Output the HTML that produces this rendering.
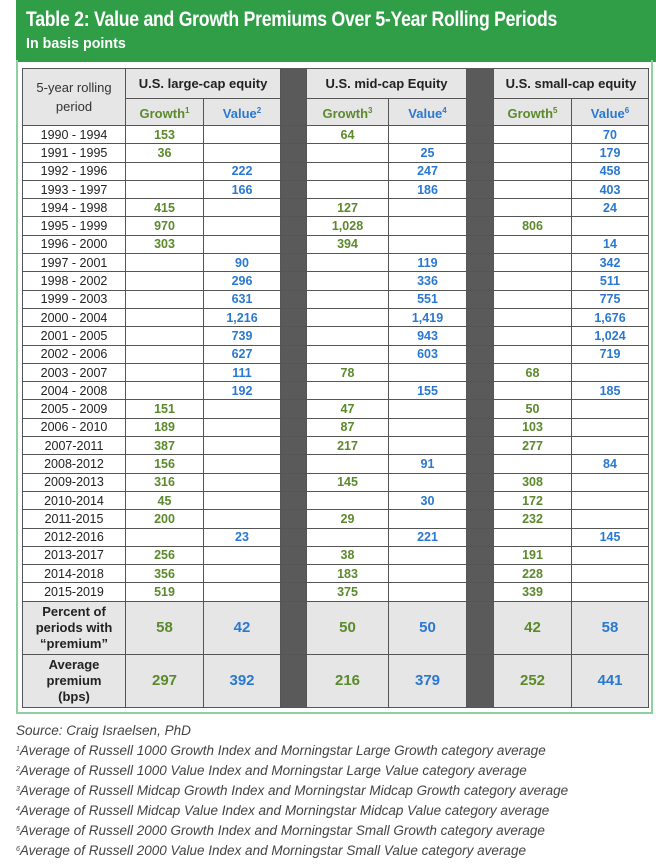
<!DOCTYPE html>
<html><head><meta charset="utf-8"><style>
*{margin:0;padding:0;box-sizing:border-box}
body{width:656px;height:867px;background:#fff;position:relative;font-family:"Liberation Sans",sans-serif;overflow:hidden}
.hdr{position:absolute;left:16px;top:0;width:640px;height:62px;background:#2f9e47}
.t1{position:absolute;left:10px;top:8px;color:#fff;font-weight:bold;font-size:21px;white-space:nowrap;transform:scaleX(0.84);transform-origin:0 0;letter-spacing:-0.3px}
.t2{position:absolute;left:10px;top:35px;color:#fff;font-weight:bold;font-size:15px;white-space:nowrap;transform:scaleX(0.95);transform-origin:0 0}
.frame{position:absolute;left:16px;top:60px;width:637px;height:654px;border:2px solid #8fd0a0;border-top:none}
table{position:absolute;left:22px;top:68px;border-collapse:collapse;table-layout:fixed}
td{border:1px solid #555;text-align:center;font-size:12.5px;color:#222;height:18.3px;padding:0;line-height:14px}
td.g{color:#5b8a2c;font-weight:bold}
td.b{color:#2a78d0;font-weight:bold}
tr.h td{background:#e6e6e6;font-weight:bold;font-size:13px}
tr.big td{background:#e6e6e6;font-size:15px}
tr.big td.l{font-size:13px;font-weight:bold;color:#222;line-height:16px}
td.dk{background:#5a5a5a !important}
sup{font-size:8px;vertical-align:5px}
.fn{position:absolute;left:16px;font-style:italic;font-size:13.5px;color:#444;white-space:nowrap}
.fn sup{font-size:7px;vertical-align:4px}
</style></head><body>
<div class="hdr"><div class="t1">Table 2: Value and Growth Premiums Over 5-Year Rolling Periods</div><div class="t2">In basis points</div></div>
<div class="frame"></div>
<table>
<colgroup><col style="width:103px"><col style="width:78px"><col style="width:77px"><col style="width:26px"><col style="width:82px"><col style="width:78px"><col style="width:27px"><col style="width:78px"><col style="width:77px"></colgroup>
<tr class="h" style="height:30px"><td rowspan="2" style="font-weight:normal;font-size:13px;line-height:19px;color:#333">5-year rolling<br>period</td><td colspan="2">U.S. large-cap equity</td><td rowspan="2" class="dk"></td><td colspan="2">U.S. mid-cap Equity</td><td rowspan="2" class="dk"></td><td colspan="2">U.S. small-cap equity</td></tr>
<tr class="h" style="height:27px"><td class="g">Growth<sup>1</sup></td><td class="b">Value<sup>2</sup></td><td class="g">Growth<sup>3</sup></td><td class="b">Value<sup>4</sup></td><td class="g">Growth<sup>5</sup></td><td class="b">Value<sup>6</sup></td></tr>
<tr><td>1990 - 1994</td><td class="g">153</td><td></td><td class="dk"></td><td class="g">64</td><td></td><td class="dk"></td><td></td><td class="b">70</td></tr>
<tr><td>1991 - 1995</td><td class="g">36</td><td></td><td class="dk"></td><td></td><td class="b">25</td><td class="dk"></td><td></td><td class="b">179</td></tr>
<tr><td>1992 - 1996</td><td></td><td class="b">222</td><td class="dk"></td><td></td><td class="b">247</td><td class="dk"></td><td></td><td class="b">458</td></tr>
<tr><td>1993 - 1997</td><td></td><td class="b">166</td><td class="dk"></td><td></td><td class="b">186</td><td class="dk"></td><td></td><td class="b">403</td></tr>
<tr><td>1994 - 1998</td><td class="g">415</td><td></td><td class="dk"></td><td class="g">127</td><td></td><td class="dk"></td><td></td><td class="b">24</td></tr>
<tr><td>1995 - 1999</td><td class="g">970</td><td></td><td class="dk"></td><td class="g">1,028</td><td></td><td class="dk"></td><td class="g">806</td><td></td></tr>
<tr><td>1996 - 2000</td><td class="g">303</td><td></td><td class="dk"></td><td class="g">394</td><td></td><td class="dk"></td><td></td><td class="b">14</td></tr>
<tr><td>1997 - 2001</td><td></td><td class="b">90</td><td class="dk"></td><td></td><td class="b">119</td><td class="dk"></td><td></td><td class="b">342</td></tr>
<tr><td>1998 - 2002</td><td></td><td class="b">296</td><td class="dk"></td><td></td><td class="b">336</td><td class="dk"></td><td></td><td class="b">511</td></tr>
<tr><td>1999 - 2003</td><td></td><td class="b">631</td><td class="dk"></td><td></td><td class="b">551</td><td class="dk"></td><td></td><td class="b">775</td></tr>
<tr><td>2000 - 2004</td><td></td><td class="b">1,216</td><td class="dk"></td><td></td><td class="b">1,419</td><td class="dk"></td><td></td><td class="b">1,676</td></tr>
<tr><td>2001 - 2005</td><td></td><td class="b">739</td><td class="dk"></td><td></td><td class="b">943</td><td class="dk"></td><td></td><td class="b">1,024</td></tr>
<tr><td>2002 - 2006</td><td></td><td class="b">627</td><td class="dk"></td><td></td><td class="b">603</td><td class="dk"></td><td></td><td class="b">719</td></tr>
<tr><td>2003 - 2007</td><td></td><td class="b">111</td><td class="dk"></td><td class="g">78</td><td></td><td class="dk"></td><td class="g">68</td><td></td></tr>
<tr><td>2004 - 2008</td><td></td><td class="b">192</td><td class="dk"></td><td></td><td class="b">155</td><td class="dk"></td><td></td><td class="b">185</td></tr>
<tr><td>2005 - 2009</td><td class="g">151</td><td></td><td class="dk"></td><td class="g">47</td><td></td><td class="dk"></td><td class="g">50</td><td></td></tr>
<tr><td>2006 - 2010</td><td class="g">189</td><td></td><td class="dk"></td><td class="g">87</td><td></td><td class="dk"></td><td class="g">103</td><td></td></tr>
<tr><td>2007-2011</td><td class="g">387</td><td></td><td class="dk"></td><td class="g">217</td><td></td><td class="dk"></td><td class="g">277</td><td></td></tr>
<tr><td>2008-2012</td><td class="g">156</td><td></td><td class="dk"></td><td></td><td class="b">91</td><td class="dk"></td><td></td><td class="b">84</td></tr>
<tr><td>2009-2013</td><td class="g">316</td><td></td><td class="dk"></td><td class="g">145</td><td></td><td class="dk"></td><td class="g">308</td><td></td></tr>
<tr><td>2010-2014</td><td class="g">45</td><td></td><td class="dk"></td><td></td><td class="b">30</td><td class="dk"></td><td class="g">172</td><td></td></tr>
<tr><td>2011-2015</td><td class="g">200</td><td></td><td class="dk"></td><td class="g">29</td><td></td><td class="dk"></td><td class="g">232</td><td></td></tr>
<tr><td>2012-2016</td><td></td><td class="b">23</td><td class="dk"></td><td></td><td class="b">221</td><td class="dk"></td><td></td><td class="b">145</td></tr>
<tr><td>2013-2017</td><td class="g">256</td><td></td><td class="dk"></td><td class="g">38</td><td></td><td class="dk"></td><td class="g">191</td><td></td></tr>
<tr><td>2014-2018</td><td class="g">356</td><td></td><td class="dk"></td><td class="g">183</td><td></td><td class="dk"></td><td class="g">228</td><td></td></tr>
<tr><td>2015-2019</td><td class="g">519</td><td></td><td class="dk"></td><td class="g">375</td><td></td><td class="dk"></td><td class="g">339</td><td></td></tr>
<tr class="big" style="height:53px"><td class="l">Percent of<br>periods with<br>“premium”</td><td class="g">58</td><td class="b">42</td><td class="dk"></td><td class="g">50</td><td class="b">50</td><td class="dk"></td><td class="g">42</td><td class="b">58</td></tr>
<tr class="big" style="height:53px"><td class="l">Average<br>premium<br>(bps)</td><td class="g">297</td><td class="b">392</td><td class="dk"></td><td class="g">216</td><td class="b">379</td><td class="dk"></td><td class="g">252</td><td class="b">441</td></tr>
</table>
<div class="fn" style="top:723px">Source: Craig Israelsen, PhD</div>
<div class="fn" style="top:743px"><sup>1</sup>Average of Russell 1000 Growth Index and Morningstar Large Growth category average</div>
<div class="fn" style="top:763px"><sup>2</sup>Average of Russell 1000 Value Index and Morningstar Large Value category average</div>
<div class="fn" style="top:783px"><sup>3</sup>Average of Russell Midcap Growth Index and Morningstar Midcap Growth category average</div>
<div class="fn" style="top:803px"><sup>4</sup>Average of Russell Midcap Value Index and Morningstar Midcap Value category average</div>
<div class="fn" style="top:823px"><sup>5</sup>Average of Russell 2000 Growth Index and Morningstar Small Growth category average</div>
<div class="fn" style="top:843px"><sup>6</sup>Average of Russell 2000 Value Index and Morningstar Small Value category average</div>
</body></html>
